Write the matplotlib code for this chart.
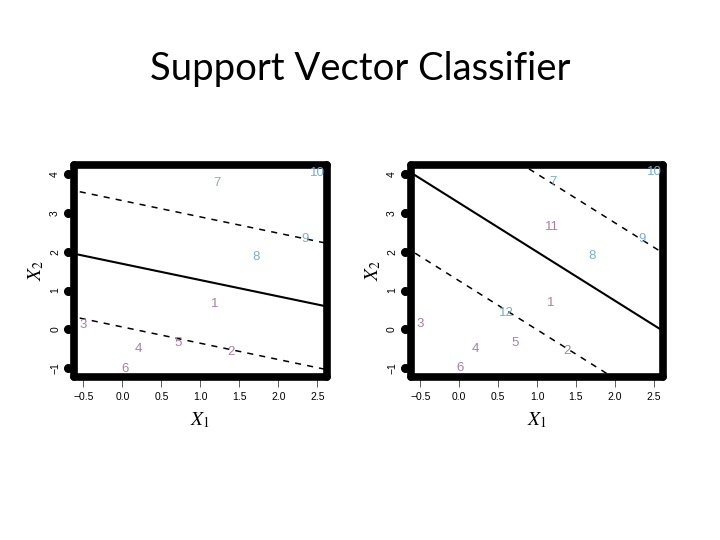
import matplotlib
matplotlib.use("Agg")
import matplotlib.pyplot as plt
import numpy as np

plt.rcParams['mathtext.fontset'] = 'stix'

# observations (same points in both panels, panel 2 adds 11 and 12)
labels_left = ['1', '2', '3', '4', '5', '6', '7', '8', '9', '10']
x1_left = [1.18, 1.39, -0.50, 0.21, 0.72, 0.03, 1.21, 1.71, 2.34, 2.50]
x2_left = [0.65, -0.59, 0.12, -0.52, -0.36, -1.03, 3.77, 1.87, 2.32, 4.04]
cls_left = [0, 0, 0, 0, 0, 0, 1, 1, 1, 1]

labels_right = ['1', '2', '3', '4', '5', '6', '7', '8', '9', '10', '11', '12']
x1_right = [1.18, 1.39, -0.50, 0.21, 0.72, 0.01, 1.20, 1.71, 2.35, 2.51, 1.19, 0.61]
x2_right = [0.67, -0.55, 0.13, -0.50, -0.36, -1.01, 3.79, 1.89, 2.34, 4.06, 2.65, 0.41]
cls_right = [0, 0, 0, 0, 0, 0, 1, 1, 1, 1, 0, 1]

# hyperplane (intercept, slope) and margin offset
plane_left = (1.69, -0.42)
margin_left = 1.63
plane_right = (3.26, -1.26)
margin_right = 2.01

xticks = [-0.5, 0.0, 0.5, 1.0, 1.5, 2.0, 2.5]
yticks = [-1, 0, 1, 2, 3, 4]

colors = ['#a97fa8', '#78afd0']


def draw_panel(ax, labs, xs, ys, cls, plane, margin):
    ax.set_xlim(-0.62, 2.62)
    ax.set_ylim(-1.23, 4.24)
    xx = np.array([-0.7, 2.7])
    b0, b1 = plane
    ax.plot(xx, b0 + b1 * xx, color='black', lw=1.5)
    ax.plot(xx, b0 + margin + b1 * xx, color='black', lw=1.1, ls=(0, (4, 4)))
    ax.plot(xx, b0 - margin + b1 * xx, color='black', lw=1.1, ls=(0, (4, 4)))
    for lab, x, y, c in zip(labs, xs, ys, cls):
        ax.text(x, y, lab, color=colors[c], fontsize=9.5, ha='center', va='center',
                family='Liberation Sans')
    for s in ax.spines.values():
        s.set_linewidth(5.5)
        s.set_capstyle('round')
    ax.set_xticks(xticks)
    ax.set_xticklabels(['%.1f' % t if t != -0.5 else '\u22120.5' for t in xticks],
                       family='Liberation Sans')
    ax.tick_params(axis='x', length=7, width=0.6, labelsize=7.5, pad=4, color='#444444')
    ax.set_yticks(yticks)
    ax.set_yticklabels([str(t).replace('-', '\u2212') for t in yticks], rotation=90,
                       va='center', family='Liberation Sans')
    ax.tick_params(axis='y', length=0, labelsize=7.5, pad=10)
    ax.plot([-0.025] * len(yticks), yticks, 'o', color='black', ms=5.5,
            transform=ax.get_yaxis_transform(), clip_on=False)
    ax.set_xlabel('$X_1$', fontsize=14, labelpad=6)
    ax.set_ylabel('$X_2$', fontsize=14, labelpad=3)


fig = plt.figure(figsize=(7.2, 5.4), dpi=100)
fig.text(0.5, 0.872, 'Support Vector Classifier', ha='center', va='center',
         fontsize=27.5, family='Lato')

ax1 = fig.add_axes([0.1028, 0.3019, 0.351, 0.3926])
draw_panel(ax1, labels_left, x1_left, x2_left, cls_left, plane_left, margin_left)

ax2 = fig.add_axes([0.5708, 0.3019, 0.35, 0.3926])
draw_panel(ax2, labels_right, x1_right, x2_right, cls_right, plane_right, margin_right)

fig.savefig('out.png', dpi=100)
